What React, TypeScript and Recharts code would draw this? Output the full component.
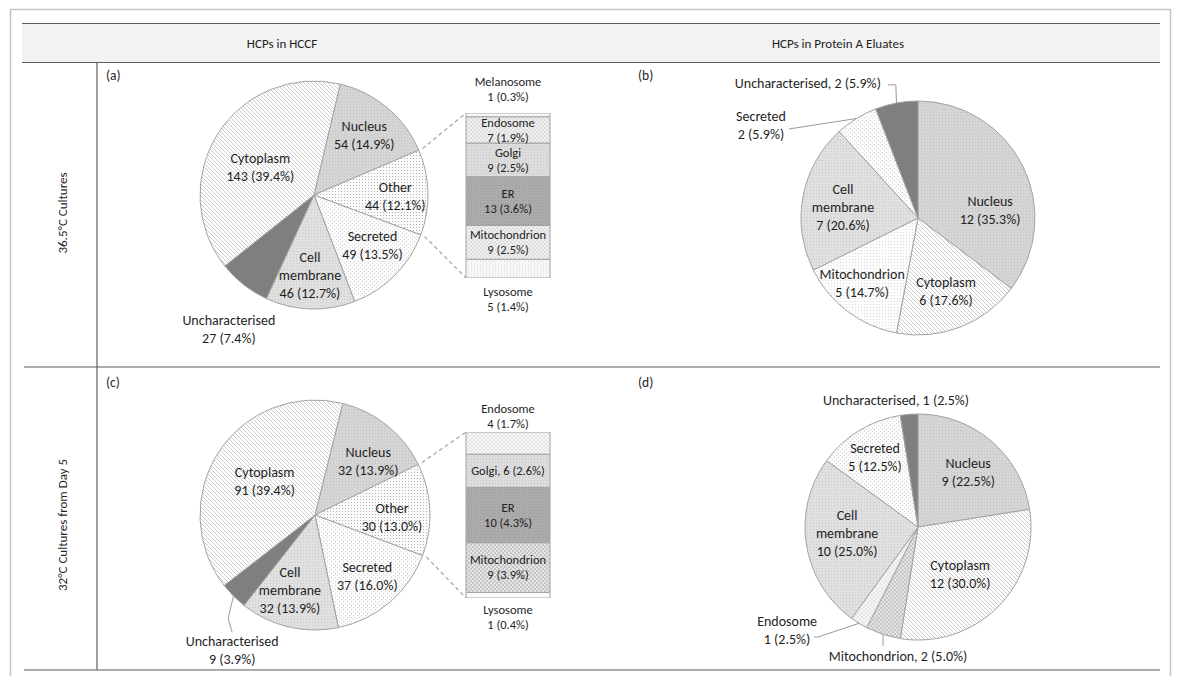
import React from 'react';
import { PieChart, Pie, Cell, BarChart, Bar, XAxis, YAxis, LabelList } from 'recharts';

// ---------- data ----------
// (a) HCPs in HCCF, 36.5°C cultures (clockwise from the Nucleus slice)
const hccfWarmNames = ['Nucleus', 'Other', 'Secreted', 'Cell membrane', 'Uncharacterised', 'Cytoplasm'];
const hccfWarmCounts = [54, 44, 49, 46, 27, 143];
// breakdown of "Other" (bottom to top of the stacked bar)
const hccfWarmOtherNames = ['Lysosome', 'Mitochondrion', 'ER', 'Golgi', 'Endosome', 'Melanosome'];
const hccfWarmOtherCounts = [5, 9, 13, 9, 7, 1];

// (b) HCPs in Protein A eluates, 36.5°C cultures
const eluateWarmNames = ['Nucleus', 'Cytoplasm', 'Mitochondrion', 'Cell membrane', 'Secreted', 'Uncharacterised'];
const eluateWarmCounts = [12, 6, 5, 7, 2, 2];

// (c) HCPs in HCCF, 32°C cultures from day 5
const hccfColdNames = ['Nucleus', 'Other', 'Secreted', 'Cell membrane', 'Uncharacterised', 'Cytoplasm'];
const hccfColdCounts = [32, 30, 37, 32, 9, 91];
const hccfColdOtherNames = ['Lysosome', 'Mitochondrion', 'ER', 'Golgi', 'Endosome'];
const hccfColdOtherCounts = [1, 9, 10, 6, 4];

// (d) HCPs in Protein A eluates, 32°C cultures from day 5
const eluateColdNames = ['Nucleus', 'Cytoplasm', 'Mitochondrion', 'Endosome', 'Cell membrane', 'Secreted', 'Uncharacterised'];
const eluateColdCounts = [9, 12, 2, 1, 10, 5, 1];

const columnTitles = ['HCPs in HCCF', 'HCPs in Protein A Eluates'];
const rowTitles = ['36.5°C Cultures', '32°C Cultures from Day 5'];
const panelTags = ['(a)', '(b)', '(c)', '(d)'];

// ---------- styling ----------
const FONT = "Carlito, Lato, 'Liberation Sans', sans-serif";
const TEXT = '#1f1f1f';
const EDGE = '#a3a3a3';

const sum = (a: number[]) => a.reduce((s, v) => s + v, 0);
const pct = (v: number, total: number) => `${((v / total) * 100).toFixed(1)}%`;

type LabelSpec = { rf: number; da: number; inline?: boolean; leader?: [number, number][] };

const hccfWarmFills = ['url(#p-nucleus)', 'url(#p-other)', 'url(#p-secreted)', 'url(#p-membrane)', '#7f7f7f', 'url(#p-hatch)'];
const hccfColdFills = hccfWarmFills;
const eluateWarmFills = ['url(#p-nucleus)', 'url(#p-hatch)', 'url(#p-mito-light)', 'url(#p-membrane)', 'url(#p-secreted)', '#7f7f7f'];
const eluateColdFills = ['url(#p-nucleus)', 'url(#p-hatch)', 'url(#p-checker)', 'url(#p-endo)', 'url(#p-membrane)', 'url(#p-secreted)', '#7f7f7f'];
const warmBarFills = ['url(#p-lyso)', 'url(#p-checker-light)', 'url(#p-er)', 'url(#p-golgi)', 'url(#p-checker-light)', '#f7f7f7'];
const coldBarFills = ['#fafafa', 'url(#p-checker)', 'url(#p-er)', 'url(#p-golgi)', 'url(#p-endo)'];

const hccfWarmLabels: LabelSpec[] = [
  { rf: 0.685, da: 0 },
  { rf: 0.713, da: 2 },
  { rf: 0.678, da: -4 },
  { rf: 0.704, da: 1 },
  { rf: 1.39, da: -5.6 },
  { rf: 0.53, da: -5 },
];
const hccfColdLabels: LabelSpec[] = [
  { rf: 0.66, da: 5.6 },
  { rf: 0.67, da: 4.3 },
  { rf: 0.7, da: 0 },
  { rf: 0.69, da: 5.2 },
  { rf: 1.38, da: -13.7, leader: [[-4, -32], [0, -18]] },
  { rf: 0.53, da: 1.2 },
];
const eluateWarmLabels: LabelSpec[] = [
  { rf: 0.62, da: 20.2 },
  { rf: 0.67, da: 0.2 },
  { rf: 0.733, da: 3.6 },
  { rf: 0.648, da: -2.3 },
  { rf: 1.56, da: -27.6, leader: [[28, 4]] },
  { rf: 1.49, da: -28.6, inline: true, leader: [[88, 2], [80, 2]] },
];
const eluateColdLabels: LabelSpec[] = [
  { rf: 0.66, da: 1.8 },
  { rf: 0.56, da: 3.2 },
  { rf: 1.155, da: -9.2, inline: true, leader: [[-15, -10]] },
  { rf: 1.474, da: 20.3, leader: [[31, 7], [27, 7]] },
  { rf: 0.63, da: 4.2 },
  { rf: 0.726, da: -0.1 },
  { rf: 1.14, da: -5.3, inline: true },
];

function labelLines(name: string, v: number, total: number, inline?: boolean) {
  if (inline) return [`${name}, ${v} (${pct(v, total)})`];
  return [...name.split(' '), `${v} (${pct(v, total)})`];
}

function MultiText({ x, y, lines, size, lh }: { x: number; y: number; lines: string[]; size: number; lh: number }) {
  const y0 = y - ((lines.length - 1) * lh) / 2;
  return (
    <text x={x} y={y0} textAnchor="middle" fontFamily={FONT} fontSize={size} fill={TEXT}>
      {lines.map((l, i) => (
        <tspan key={i} x={x} y={y0 + i * lh + size * 0.35}>
          {l}
        </tspan>
      ))}
    </text>
  );
}

type PiePanelProps = {
  names: string[];
  counts: number[];
  fills: string[];
  labels: LabelSpec[];
  cx: number;
  cy: number;
  r: number;
  start: number; // degrees clockwise from 12 o'clock
};

const PW = 480;
const PH = 380;

function PiePanel({ names, counts, fills, labels, cx, cy, r, start }: PiePanelProps) {
  const total = sum(counts);
  const data = names.map((n, i) => ({ name: n, value: counts[i] }));
  const renderLabel = (p: any) => {
    const i = p.index;
    const spec = labels[i];
    const mid = 90 - p.midAngle;
    const t = ((mid + spec.da) * Math.PI) / 180;
    const rr = p.outerRadius * spec.rf;
    const x = p.cx + rr * Math.sin(t);
    const y = p.cy - rr * Math.cos(t);
    const lines = labelLines(names[i], counts[i], total, spec.inline);
    let leader = null;
    if (spec.leader) {
      const tm = (mid * Math.PI) / 180;
      const ex = p.cx + p.outerRadius * Math.sin(tm);
      const ey = p.cy - p.outerRadius * Math.cos(tm);
      const pts = [[ex, ey], ...spec.leader.map(([dx, dy]) => [x + dx, y + dy])];
      leader = <polyline points={pts.map((q) => q.join(',')).join(' ')} fill="none" stroke="#9a9a9a" strokeWidth={1} />;
    }
    return (
      <g key={`lab-${i}`}>
        {leader}
        <MultiText x={x} y={y} lines={lines} size={14} lh={18} />
      </g>
    );
  };
  return (
    <div style={{ position: 'absolute', left: cx - PW / 2, top: cy - PH / 2 }}>
      <PieChart width={PW} height={PH} margin={{ top: 0, right: 0, bottom: 0, left: 0 }}>
        <Pie
          data={data}
          dataKey="value"
          nameKey="name"
          cx={PW / 2}
          cy={PH / 2}
          outerRadius={r}
          startAngle={90 - start}
          endAngle={90 - start - 360}
          stroke={EDGE}
          strokeWidth={1}
          label={renderLabel}
          labelLine={false}
          isAnimationActive={false}
        >
          {data.map((d, i) => (
            <Cell key={d.name} fill={fills[i]} />
          ))}
        </Pie>
      </PieChart>
    </div>
  );
}

type BarPlace = { kind: 'inside' | 'inline' | 'above' | 'below'; gap?: number };

type OtherBarProps = {
  names: string[];
  counts: number[];
  fills: string[];
  places: BarPlace[];
  grandTotal: number;
  left: number;
  top: number;
  width: number;
  height: number;
};

const BM = { top: 60, bottom: 60, left: 40, right: 40 };

function OtherBar({ names, counts, fills, places, grandTotal, left, top, width, height }: OtherBarProps) {
  const row: Record<string, any> = { group: 'Other' };
  names.forEach((n, i) => (row[n] = counts[i]));
  const sub = sum(counts);
  const renderSeg = (i: number) => (p: any) => {
    const place = places[i];
    const x = Number(p.x) + Number(p.width) / 2;
    const yTop = Math.min(Number(p.y), Number(p.y) + Number(p.height));
    const h = Math.abs(Number(p.height));
    const lines = labelLines(names[i], counts[i], grandTotal, place.kind === 'inline');
    const lh = 15;
    const size = 12.5;
    const block = (lines.length - 1) * lh;
    let cyText = yTop + h / 2;
    if (place.kind === 'above') cyText = yTop - (place.gap ?? 10) - block / 2;
    if (place.kind === 'below') cyText = yTop + h + (place.gap ?? 10) + block / 2;
    return <MultiText key={`b-${i}`} x={x} y={cyText} lines={lines} size={size} lh={lh} />;
  };
  return (
    <div style={{ position: 'absolute', left: left - BM.left, top: top - BM.top }}>
      <BarChart
        width={width + BM.left + BM.right}
        height={height + BM.top + BM.bottom}
        data={[row]}
        margin={BM}
        barCategoryGap={0}
        barGap={0}
      >
        <XAxis dataKey="group" hide />
        <YAxis type="number" domain={[0, sub]} hide allowDataOverflow />
        {names.map((n, i) => (
          <Bar key={n} dataKey={n} stackId="other" fill={fills[i]} stroke={EDGE} strokeWidth={1} isAnimationActive={false}>
            <LabelList dataKey={n} content={renderSeg(i)} />
          </Bar>
        ))}
      </BarChart>
    </div>
  );
}

// dashed lines from the "Other" slice to the stacked bar
function Connector({ counts, otherIndex, cx, cy, r, start, barLeft, barTop, barBottom }: any) {
  const total = sum(counts);
  const before = sum(counts.slice(0, otherIndex));
  const a0 = ((start + (360 * before) / total) * Math.PI) / 180;
  const a1 = ((start + (360 * (before + counts[otherIndex])) / total) * Math.PI) / 180;
  const rr = r + 4;
  const p0 = [cx + rr * Math.sin(a0), cy - rr * Math.cos(a0)];
  const p1 = [cx + rr * Math.sin(a1), cy - rr * Math.cos(a1)];
  return (
    <g stroke="#9ea3ad" strokeWidth={1.2} strokeDasharray="4 3">
      <line x1={p0[0]} y1={p0[1]} x2={barLeft} y2={barTop} />
      <line x1={p1[0]} y1={p1[1]} x2={barLeft} y2={barBottom} />
    </g>
  );
}

function Patterns() {
  return (
    <svg width={0} height={0} style={{ position: 'absolute' }}>
      <defs>
        <pattern id="p-hatch" patternUnits="userSpaceOnUse" width={4} height={4}>
          <rect width={4} height={4} fill="#ffffff" />
          <path d="M-1,-1 L5,5 M-1,3 L1,5 M3,-1 L5,1" stroke="#c6c6c6" strokeWidth={0.9} />
        </pattern>
        <pattern id="p-nucleus" patternUnits="userSpaceOnUse" width={3} height={3}>
          <rect width={3} height={3} fill="#d5d5d5" />
          <rect width={1} height={1} fill="#c3c3c3" />
        </pattern>
        <pattern id="p-other" patternUnits="userSpaceOnUse" width={3} height={3}>
          <rect width={3} height={3} fill="#fbfbfb" />
          <rect width={1} height={1} fill="#b0b0b0" />
        </pattern>
        <pattern id="p-secreted" patternUnits="userSpaceOnUse" width={4} height={4}>
          <rect width={4} height={4} fill="#fcfcfc" />
          <rect width={1} height={1} fill="#cccccc" />
          <rect x={2} y={2} width={1} height={1} fill="#d8d8d8" />
        </pattern>
        <pattern id="p-membrane" patternUnits="userSpaceOnUse" width={3} height={3}>
          <rect width={3} height={3} fill="#e0e0e0" />
          <rect width={1} height={1} fill="#c9c9c9" />
        </pattern>
        <pattern id="p-mito-light" patternUnits="userSpaceOnUse" width={3} height={3}>
          <rect width={3} height={3} fill="#fdfdfd" />
          <rect width={1} height={1} fill="#dadada" />
        </pattern>
        <pattern id="p-checker" patternUnits="userSpaceOnUse" width={4} height={4}>
          <rect width={4} height={4} fill="#e4e4e4" />
          <rect width={2} height={2} fill="#c6c6c6" />
          <rect x={2} y={2} width={2} height={2} fill="#c6c6c6" />
        </pattern>
        <pattern id="p-checker-light" patternUnits="userSpaceOnUse" width={4} height={4}>
          <rect width={4} height={4} fill="#f1f1f1" />
          <rect width={2} height={2} fill="#dddddd" />
          <rect x={2} y={2} width={2} height={2} fill="#dddddd" />
        </pattern>
        <pattern id="p-endo" patternUnits="userSpaceOnUse" width={4} height={4}>
          <rect width={4} height={4} fill="#f7f7f7" />
          <path d="M0,4 L4,0 M0,0 L4,4" stroke="#dedede" strokeWidth={0.7} />
        </pattern>
        <pattern id="p-golgi" patternUnits="userSpaceOnUse" width={3} height={3}>
          <rect width={3} height={3} fill="#dcdcdc" />
          <rect width={1} height={1} fill="#c8c8c8" />
        </pattern>
        <pattern id="p-er" patternUnits="userSpaceOnUse" width={3} height={3}>
          <rect width={3} height={3} fill="#ababab" />
          <rect width={1} height={1} fill="#9c9c9c" />
        </pattern>
        <pattern id="p-lyso" patternUnits="userSpaceOnUse" width={3} height={3}>
          <rect width={3} height={3} fill="#f8f8f8" />
          <rect width={1} height={3} fill="#ebebeb" />
        </pattern>
      </defs>
    </svg>
  );
}

// panel geometry
const A = { cx: 314, cy: 195, r: 114, start: 13.3 };
const ABar = { left: 466, top: 113, width: 84, height: 165 };
const B = { cx: 918, cy: 218, r: 117, start: 0 };
const C = { cx: 315, cy: 515, r: 115, start: 14 };
const CBar = { left: 466, top: 432, width: 84, height: 166 };
const D = { cx: 918, cy: 527, r: 113, start: 0 };

export default function App() {
  const textStyle = { fontFamily: FONT, fill: TEXT } as const;
  return (
    <div style={{ position: 'absolute', left: 0, top: 0, width: 1181, height: 676, background: '#ffffff', overflow: 'hidden' }}>
      <Patterns />
      <svg width={1181} height={676} style={{ position: 'absolute', left: 0, top: 0 }}>
        <rect x={10.5} y={9.5} width={1160} height={700} fill="none" stroke="#c4c4c4" strokeWidth={1.5} />
        <rect x={22} y={23.5} width={1138} height={39} fill="#f2f2f2" />
        <g stroke="#5c5c5c" strokeWidth={1.2}>
          <line x1={22} x2={1160} y1={23.5} y2={23.5} />
          <line x1={22} x2={1160} y1={62.5} y2={62.5} />
          <line x1={24} x2={1160} y1={367} y2={367} />
          <line x1={24} x2={1160} y1={670} y2={670} />
          <line x1={97} x2={97} y1={62.5} y2={670} />
        </g>
        <text x={282} y={43} textAnchor="middle" dominantBaseline="central" fontSize={13} {...textStyle}>
          {columnTitles[0]}
        </text>
        <text x={838} y={43} textAnchor="middle" dominantBaseline="central" fontSize={13} {...textStyle}>
          {columnTitles[1]}
        </text>
        <text transform="translate(62,213) rotate(-90)" textAnchor="middle" dominantBaseline="central" fontSize={13} {...textStyle}>
          {rowTitles[0]}
        </text>
        <text transform="translate(62,525) rotate(-90)" textAnchor="middle" dominantBaseline="central" fontSize={13} {...textStyle}>
          {rowTitles[1]}
        </text>
        <text x={106} y={75} dominantBaseline="central" fontSize={13.5} {...textStyle}>{panelTags[0]}</text>
        <text x={638} y={75} dominantBaseline="central" fontSize={13.5} {...textStyle}>{panelTags[1]}</text>
        <text x={106} y={382} dominantBaseline="central" fontSize={13.5} {...textStyle}>{panelTags[2]}</text>
        <text x={638} y={382} dominantBaseline="central" fontSize={13.5} {...textStyle}>{panelTags[3]}</text>
        <Connector counts={hccfWarmCounts} otherIndex={1} cx={A.cx} cy={A.cy} r={A.r} start={A.start}
          barLeft={ABar.left} barTop={ABar.top} barBottom={ABar.top + ABar.height} />
        <Connector counts={hccfColdCounts} otherIndex={1} cx={C.cx} cy={C.cy} r={C.r} start={C.start}
          barLeft={CBar.left} barTop={CBar.top} barBottom={CBar.top + CBar.height} />
      </svg>

      <PiePanel names={hccfWarmNames} counts={hccfWarmCounts} fills={hccfWarmFills} labels={hccfWarmLabels} {...A} />
      <OtherBar
        names={hccfWarmOtherNames}
        counts={hccfWarmOtherCounts}
        fills={warmBarFills}
        places={[{ kind: 'below', gap: 14 }, { kind: 'inside' }, { kind: 'inside' }, { kind: 'inside' }, { kind: 'inside' }, { kind: 'above', gap: 16 }]}
        grandTotal={sum(hccfWarmCounts)}
        {...ABar}
      />
      <PiePanel names={eluateWarmNames} counts={eluateWarmCounts} fills={eluateWarmFills} labels={eluateWarmLabels} {...B} />
      <PiePanel names={hccfColdNames} counts={hccfColdCounts} fills={hccfColdFills} labels={hccfColdLabels} {...C} />
      <OtherBar
        names={hccfColdOtherNames}
        counts={hccfColdOtherCounts}
        fills={coldBarFills}
        places={[{ kind: 'below', gap: 12 }, { kind: 'inside' }, { kind: 'inside' }, { kind: 'inline' }, { kind: 'above', gap: 8 }]}
        grandTotal={sum(hccfColdCounts)}
        {...CBar}
      />
      <PiePanel names={eluateColdNames} counts={eluateColdCounts} fills={eluateColdFills} labels={eluateColdLabels} {...D} />
    </div>
  );
}
